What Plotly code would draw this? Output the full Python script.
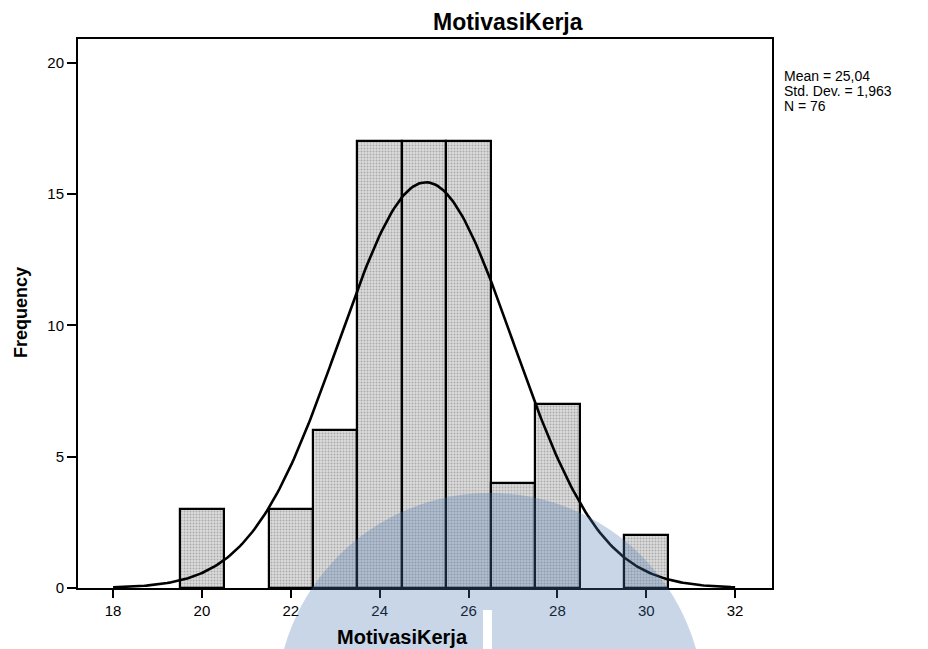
import numpy as np
import plotly.graph_objects as go

# Data
bin_centers = [20, 22, 23, 24, 25, 26, 27, 28, 30]
frequencies = [3, 3, 6, 17, 17, 17, 4, 7, 2]
mean_val = 25.04
std_val = 1.963
n_val = 76
x_ticks = [18, 20, 22, 24, 26, 28, 30, 32]
y_ticks = [0, 5, 10, 15, 20]
stat_lines = ["Mean = 25,04", "Std. Dev. = 1,963", "N = 76"]

# Normal curve defined by the reported statistics (bin width 1)
xc = np.linspace(18, 32, 300)
yc = n_val * 1.0 / (std_val * np.sqrt(2 * np.pi)) * np.exp(-0.5 * ((xc - mean_val) / std_val) ** 2)

W, H = 928, 649
L, R, T, B = 78, 156, 39, 61
pw, ph = W - L - R, H - T - B

def px(x):
    return (x - L) / pw

def py(y):
    return (H - B - y) / ph

fig = go.Figure()
fig.add_trace(go.Bar(
    x=bin_centers, y=frequencies, width=1,
    marker=dict(color="#dcdcdc", line=dict(color="black", width=2.2),
                pattern=dict(shape=".", fgcolor="#7a7a7a", size=3, solidity=0.35)),
    showlegend=False, hoverinfo="x+y"))
fig.add_trace(go.Scatter(x=xc, y=yc, mode="lines", line=dict(color="black", width=2.6),
                         showlegend=False, hoverinfo="skip"))

font = "Liberation Sans, Arial, sans-serif"
fig.update_layout(
    width=W, height=H, margin=dict(l=L, r=R, t=T, b=B),
    paper_bgcolor="white", plot_bgcolor="white", bargap=0,
    font=dict(family=font, color="black", size=15),
    xaxis=dict(range=[17.21, 32.83], tickvals=x_ticks, ticktext=[str(v) for v in x_ticks],
               ticks="outside", ticklen=8, tickwidth=2, tickcolor="black",
               showline=True, linecolor="black", linewidth=2, mirror=True,
               showgrid=False, zeroline=False, tickfont=dict(size=15)),
    yaxis=dict(range=[0, 20.9], tickvals=y_ticks, ticktext=[str(v) for v in y_ticks],
               ticks="outside", ticklen=9, tickwidth=2, tickcolor="black",
               showline=True, linecolor="black", linewidth=2, mirror=True,
               showgrid=False, zeroline=False, tickfont=dict(size=15)),
)

fig.add_annotation(text="<b>MotivasiKerja</b>", xref="paper", yref="paper",
                   x=px(508), y=py(22), xanchor="center", yanchor="middle",
                   showarrow=False, font=dict(size=23, family=font))
fig.add_annotation(text="<b>MotivasiKerja</b>", xref="paper", yref="paper",
                   x=px(402), y=py(637), xanchor="center", yanchor="middle",
                   showarrow=False, font=dict(size=20, family=font))
fig.add_annotation(text="<b>Frequency</b>", xref="paper", yref="paper",
                   x=px(21), y=py(313), xanchor="center", yanchor="middle", textangle=-90,
                   showarrow=False, font=dict(size=18, family=font))
for i, line in enumerate(stat_lines):
    fig.add_annotation(text=line, xref="paper", yref="paper",
                       x=px(782), y=py(76 + 15 * i), xanchor="left", yanchor="middle", align="left",
                       showarrow=False, font=dict(size=14, family=font),
                       height=14, valign="middle")

# light-blue watermark dome
cx, cy, r = 490, 707, 214
fig.add_shape(type="circle", xref="paper", yref="paper",
              x0=px(cx - r), x1=px(cx + r), y0=py(cy + r), y1=py(cy - r),
              fillcolor="rgb(72,118,178)", opacity=0.3, line=dict(width=0), layer="above")
fig.add_shape(type="rect", xref="paper", yref="paper",
              x0=px(483), x1=px(492), y0=py(649), y1=py(610),
              fillcolor="white", line=dict(width=0), layer="above")

fig.write_html("out.html", config={"displayModeBar": False},
               post_script="document.body.style.margin='0';document.body.style.overflow='hidden';")
